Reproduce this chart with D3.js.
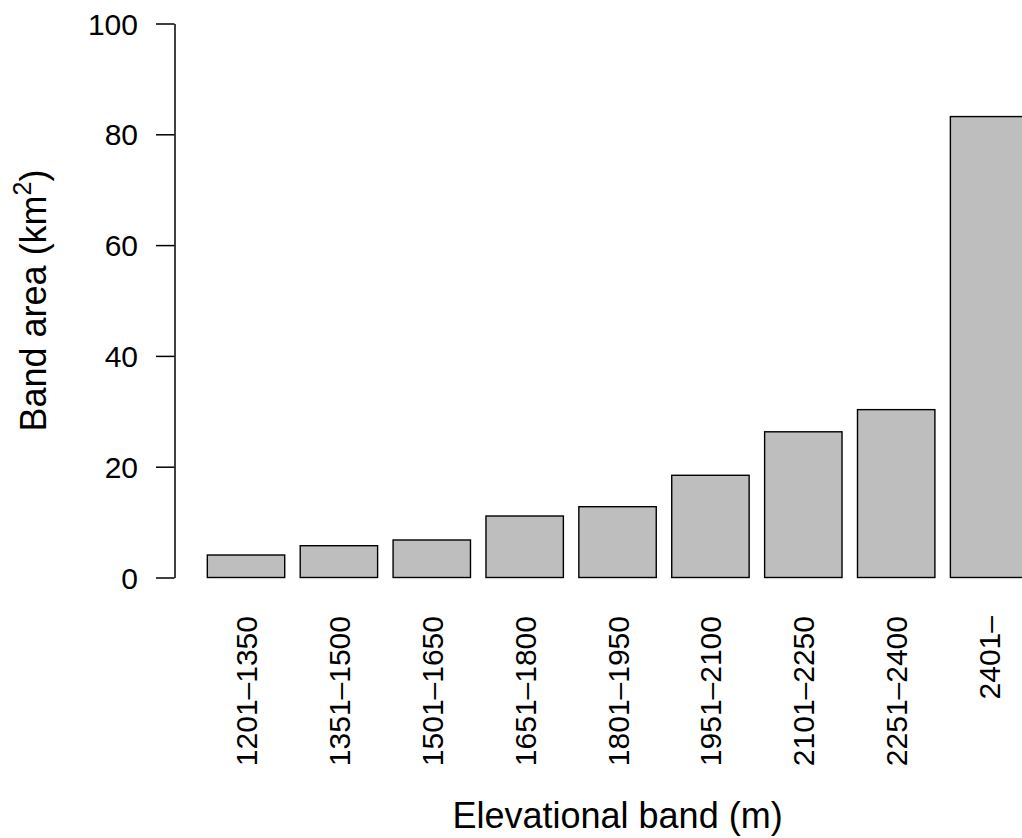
<!DOCTYPE html>
<html>
<head>
<meta charset="utf-8">
<script src="https://cdn.jsdelivr.net/npm/d3@7"></script>
<style>
  html, body { margin: 0; padding: 0; background: #fff; }
  svg { display: block; }
  text { font-family: "Liberation Sans", Arial, Helvetica, sans-serif; fill: #000; }
</style>
</head>
<body>
<svg id="chart" width="1022" height="838"></svg>
<script>
// Elevational bands and their areas (km²)
const categories = ["1201–1350", "1351–1500", "1501–1650", "1651–1800", "1801–1950",
                    "1951–2100", "2101–2250", "2251–2400", "2401–"];
const areas = [4.06, 5.74, 6.77, 11.1, 12.78, 18.45, 26.3, 30.3, 83.2];
const yTicks = [0, 20, 40, 60, 80, 100];

const svg = d3.select("#chart");

// Plot region in barplot units: bars of width 1 separated by 0.2, padded 4% either side
const nBars = categories.length;
const uMin = 0.2, uMax = 1.2 * nBars;
const pad = 0.04 * (uMax - uMin);
const u = d3.scaleLinear().domain([uMin - pad, uMax + pad]).range([174.5, 1060.6]);

const x = d3.scaleBand()
  .domain(categories)
  .range([u(0), u(uMax)])
  .paddingInner(0.2 / 1.2)
  .paddingOuter(0.1 / 1.2)
  .align(1);

const y = d3.scaleLinear().domain([0, 100]).range([577.5, 23.5]);

// Bars
svg.append("g")
  .selectAll("rect")
  .data(areas)
  .join("rect")
  .attr("x", (d, i) => x(categories[i]))
  .attr("y", d => y(d))
  .attr("width", x.bandwidth())
  .attr("height", d => y(0) - y(d))
  .attr("fill", "#bebebe")
  .attr("stroke", "#000")
  .attr("stroke-width", 1.4);

// Y axis
const yAxis = svg.append("g")
  .attr("transform", `translate(${u.range()[0]},0)`)
  .call(d3.axisLeft(y).tickValues(yTicks).tickSize(18.5).tickSizeOuter(0).tickPadding(18));
yAxis.select(".domain").attr("stroke", "#000").attr("stroke-width", 1.5);
yAxis.selectAll(".tick line").attr("stroke", "#000").attr("stroke-width", 1.5);
yAxis.selectAll(".tick text")
  .attr("font-size", 30)
  .attr("font-family", "Liberation Sans, Arial, sans-serif")
  .attr("fill", "#000")
  .attr("dy", "0.35em");

// Category labels, rotated vertically under each bar
svg.append("g")
  .selectAll("text")
  .data(categories)
  .join("text")
  .attr("transform", d => `translate(${x(d) + x.bandwidth() / 2 + 11},616) rotate(-90)`)
  .attr("text-anchor", "end")
  .attr("font-size", 30)
  .text(d => d);

// Axis titles
svg.append("text")
  .attr("x", (u.range()[0] + u.range()[1]) / 2)
  .attr("y", 828)
  .attr("text-anchor", "middle")
  .attr("font-size", 36)
  .text("Elevational band (m)");

const yTitle = svg.append("text")
  .attr("transform", `translate(46,${(y(0) + y(100)) / 2}) rotate(-90)`)
  .attr("text-anchor", "middle")
  .attr("font-size", 36);
yTitle.append("tspan").text("Band area (km");
yTitle.append("tspan").attr("font-size", 25).attr("dy", -15).text("2");
yTitle.append("tspan").attr("dy", 15).text(")");
</script>
</body>
</html>
